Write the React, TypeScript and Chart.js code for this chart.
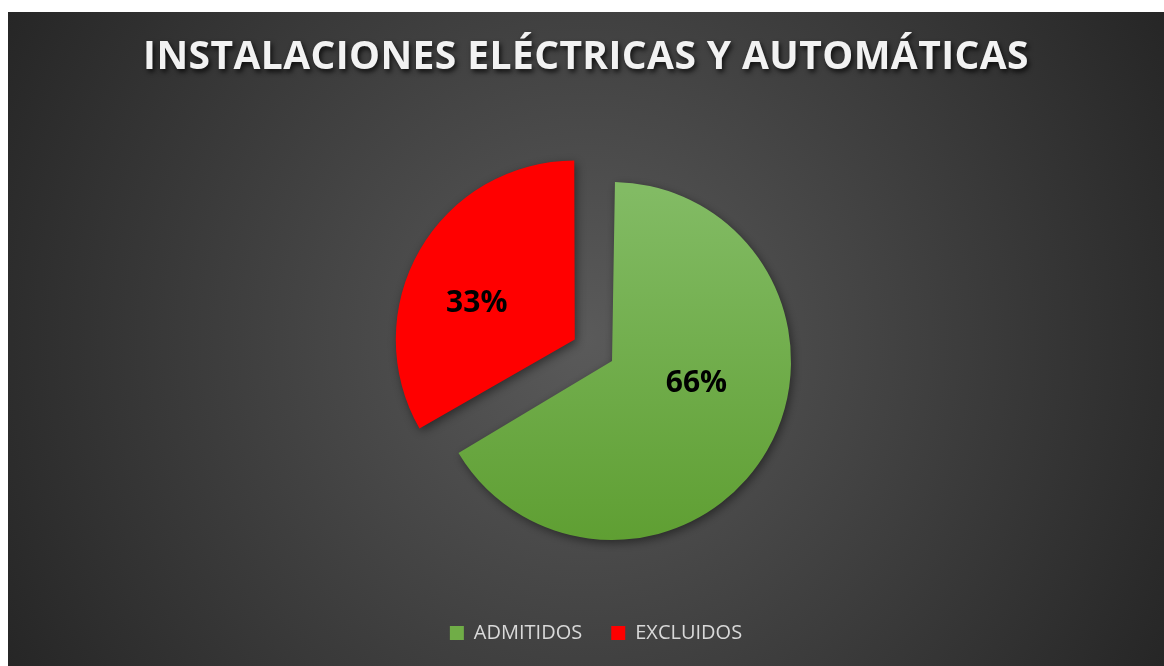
import React, { useEffect, useRef } from 'react';
import { Chart, registerables } from 'chart.js';

Chart.register(...registerables);

// ---- data ----
const TITLE = 'INSTALACIONES ELÉCTRICAS Y AUTOMÁTICAS';
const categories = ['ADMITIDOS', 'EXCLUIDOS'];
const values = [0.66, 0.33];

// ---- styles ----
const sliceColors = ['#70AD47', '#FF0000'];
const sliceOffsets = [74, 98];
const labelRadiusFractions = [0.54, 0.6];
const labelAngleFraction = 0.43;
const W = 1156;
const H = 654;
const PIE_RADIUS = 179;

const fmtPct = (v: number) => Math.round(v * 100) + '%';

const bgPlugin = {
  id: 'bgGradient',
  beforeDraw(chart: any) {
    const { ctx, width, height } = chart;
    const cx = width / 2;
    const cy = height / 2;
    const r = Math.hypot(cx, cy);
    const g = ctx.createRadialGradient(cx, cy, 0, cx, cy, r);
    g.addColorStop(0, '#5a5a5a');
    g.addColorStop(1, '#262626');
    ctx.save();
    ctx.fillStyle = g;
    ctx.fillRect(0, 0, width, height);
    ctx.restore();
  },
};

const titlePlugin = {
  id: 'shadowTitle',
  afterDraw(chart: any) {
    const { ctx, width } = chart;
    ctx.save();
    ctx.font = 'bold 39px "Open Sans"';
    (ctx as any).letterSpacing = '0.4px';
    ctx.textAlign = 'center';
    ctx.textBaseline = 'middle';
    ctx.shadowColor = 'rgba(0,0,0,0.75)';
    ctx.shadowBlur = 5;
    ctx.shadowOffsetX = 2;
    ctx.shadowOffsetY = 3;
    ctx.fillStyle = '#f2f2f2';
    ctx.fillText(TITLE, width / 2, 46);
    ctx.restore();
  },
};

const pieFixPlugin = {
  id: 'pieFix',
  beforeDatasetsDraw(chart: any) {
    const meta = chart.getDatasetMeta(0);
    const ctrl: any = meta.controller;
    meta.data.forEach((el: any) => {
      const circ = el.endAngle - el.startAngle;
      const fix = 1 - Math.sin(Math.min(Math.PI, circ));
      const t = (el.options.offset || 0) / 4;
      el.outerRadius = ctrl.outerRadius - t * fix;
    });
    const ctx = chart.ctx;
    ctx.save();
    ctx.shadowColor = 'rgba(0,0,0,0.45)';
    ctx.shadowBlur = 10;
    ctx.shadowOffsetX = 2;
    ctx.shadowOffsetY = 3;
  },
  afterDatasetsDraw(chart: any) {
    const ctx = chart.ctx;
    ctx.restore();
    const meta = chart.getDatasetMeta(0);
    ctx.save();
    ctx.font = 'bold 30px "Open Sans"';
    ctx.fillStyle = '#000000';
    ctx.textAlign = 'center';
    ctx.textBaseline = 'middle';
    meta.data.forEach((el: any, i: number) => {
      const mid = (el.startAngle + el.endAngle) / 2;
      const t = (el.options.offset || 0) / 4;
      const a = el.startAngle + labelAngleFraction * (el.endAngle - el.startAngle);
      const d = labelRadiusFractions[i] * el.outerRadius;
      const x = el.x + Math.cos(mid) * t + Math.cos(a) * d;
      const y = el.y + Math.sin(mid) * t + Math.sin(a) * d + 3;
      ctx.fillText(fmtPct(values[i]), x, y);
    });
    ctx.restore();
  },
};

function greenFill(chart: any) {
  const ca = chart.chartArea;
  if (!ca) return sliceColors[0];
  const cy = (ca.top + ca.bottom) / 2;
  const g = chart.ctx.createLinearGradient(0, cy - 170, 0, cy + 190);
  g.addColorStop(0, '#82bb64');
  g.addColorStop(1, '#5e9e31');
  return g;
}

export default function App() {
  const ref = useRef<HTMLCanvasElement>(null);
  useEffect(() => {
    const chart = new Chart(ref.current as HTMLCanvasElement, {
      type: 'pie',
      data: {
        labels: categories,
        datasets: [
          {
            data: values,
            backgroundColor: (c: any) => (c.dataIndex === 0 ? greenFill(c.chart) : sliceColors[c.dataIndex]),
            borderWidth: 0,
            offset: sliceOffsets,
            hoverOffset: 0,
          } as any,
        ],
      },
      options: {
        responsive: false,
        animation: false,
        events: [],
        radius: PIE_RADIUS,
        layout: { padding: { left: 20, right: 0, top: 97.5, bottom: 13 } },
        plugins: {
          title: { display: false },
          tooltip: { enabled: false },
          legend: {
            position: 'bottom',
            labels: {
              color: '#d9d9d9',
              font: { family: 'Open Sans', size: 20 },
              boxWidth: 14,
              boxHeight: 14,
              padding: 29,
              generateLabels: () =>
                categories.map((c, i) => ({
                  text: c,
                  fillStyle: sliceColors[i],
                  strokeStyle: sliceColors[i],
                  lineWidth: 0,
                  fontColor: '#d9d9d9',
                  hidden: false,
                  index: i,
                })),
            },
          },
        },
      } as any,
      plugins: [bgPlugin, titlePlugin, pieFixPlugin],
    });
    return () => chart.destroy();
  }, []);
  return (
    <div style={{ position: 'absolute', left: 8, top: 12, width: W, height: H }}>
      <canvas ref={ref} width={W} height={H} style={{ display: 'block', width: W, height: H }} />
    </div>
  );
}
